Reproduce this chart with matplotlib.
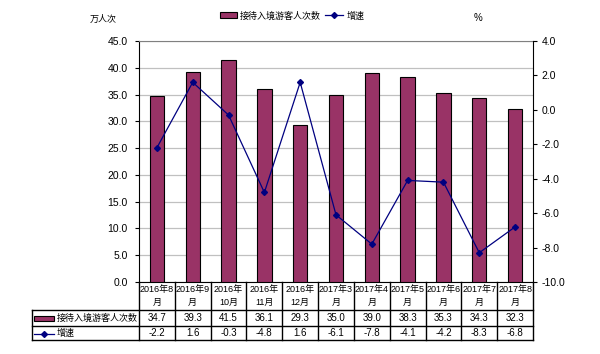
import matplotlib.pyplot as plt
import numpy as np

plt.rcParams['font.family'] = ['Liberation Sans', 'Noto Sans CJK SC']

categories = ['2016年8\n月', '2016年9\n月', '2016年\n10月', '2016年\n11月', '2016年\n12月',
              '2017年3\n月', '2017年4\n月', '2017年5\n月', '2017年6\n月', '2017年7\n月', '2017年8\n月']
visitors = [34.7, 39.3, 41.5, 36.1, 29.3, 35.0, 39.0, 38.3, 35.3, 34.3, 32.3]
growth = [-2.2, 1.6, -0.3, -4.8, 1.6, -6.1, -7.8, -4.1, -4.2, -8.3, -6.8]
bar_name = '接待入境游客人次数'
line_name = '增速'

W, H = 600, 354
fig = plt.figure(figsize=(6, 3.54), dpi=100)
L, R, T, B = 139, 533, 41, 282
ax = fig.add_axes([L / W, 1 - B / H, (R - L) / W, (B - T) / H])

x = np.arange(len(categories))
ax.bar(x, visitors, width=0.4, color='#993366', edgecolor='black', linewidth=0.8, zorder=3)
ax.set_xlim(-0.5, len(categories) - 0.5)
ax.set_ylim(0, 45)
ax.set_yticks(np.arange(0, 46, 5))
ax.set_yticklabels([f'{v:.1f}' for v in np.arange(0, 46, 5)], fontsize=7.5)
ax.yaxis.grid(True, color='#c0c0c0', linewidth=0.9)
ax.set_axisbelow(True)
ax.set_xticks([])
ax.spines['top'].set_color('#808080')
ax.spines['top'].set_zorder(5)
ax.spines['left'].set_color('black')
ax.spines['right'].set_visible(False)
ax.tick_params(axis='y', length=3, pad=5, width=0.8)

ax2 = ax.twinx()
ax2.plot(x, growth, color='#000080', linewidth=0.9, marker='D', markersize=3, zorder=4)
ax2.set_ylim(-10, 4)
ax2.set_yticks(np.arange(-10, 5, 2))
ax2.set_yticklabels([f'{v:.1f}' for v in np.arange(-10, 5, 2)], fontsize=7.5)
ax2.tick_params(axis='y', length=3, pad=3, width=0.8)
for s in ['top', 'left', 'bottom']:
    ax2.spines[s].set_visible(False)
ax2.spines['right'].set_color('black')

# table under the plot
tr = ax.get_xaxis_transform()
def ya(py):
    return (B - py) / (B - T)
y_hdr, y_r1, y_r2 = ya(310), ya(326), ya(340)
xl_tab = -0.5 - (L - 32) / ((R - L) / len(categories))
lw = 1.0
for i in range(len(categories) + 1):
    ax.plot([i - 0.5, i - 0.5], [0, y_r2], transform=tr, color='black', lw=lw, clip_on=False)
for yy in [y_hdr, y_r1, y_r2]:
    ax.plot([xl_tab, len(categories) - 0.5], [yy, yy], transform=tr, color='black', lw=lw, clip_on=False)
ax.plot([xl_tab, xl_tab], [y_hdr, y_r2], transform=tr, color='black', lw=lw, clip_on=False)

for i, c in enumerate(categories):
    ax.text(i, (0 + y_hdr) / 2, c, transform=tr, ha='center', va='center', fontsize=6.5,
            linespacing=1.45)
    ax.text(i, (y_hdr + y_r1) / 2, f'{visitors[i]:.1f}', transform=tr, ha='center', va='center', fontsize=7)
    ax.text(i, (y_r1 + y_r2) / 2, f'{growth[i]:.1f}', transform=tr, ha='center', va='center', fontsize=7)

# legend keys in the table
fig.patches.append(plt.Rectangle((34 / W, 1 - 321 / H), 20 / W, 5 / H, transform=fig.transFigure,
                                 facecolor='#993366', edgecolor='black', lw=0.8))
fig.text(57 / W, 1 - 318 / H, bar_name, ha='left', va='center', fontsize=6.5)
fig.lines.append(plt.Line2D([34 / W, 44 / W, 54 / W], [1 - 334 / H] * 3, transform=fig.transFigure,
                            color='#000080', lw=0.9, marker='D', markersize=3, markevery=[1]))
fig.text(57 / W, 1 - 333 / H, line_name, ha='left', va='center', fontsize=6.5)

# top legend
fig.patches.append(plt.Rectangle((220 / W, 1 - 18 / H), 17 / W, 6 / H, transform=fig.transFigure,
                                 facecolor='#993366', edgecolor='black', lw=0.8))
fig.text(240 / W, 1 - 16 / H, bar_name, ha='left', va='center', fontsize=6.5)
fig.lines.append(plt.Line2D([325 / W, 334 / W, 343 / W], [1 - 15 / H] * 3, transform=fig.transFigure,
                            color='#000080', lw=0.9, marker='D', markersize=3, markevery=[1]))
fig.text(347 / W, 1 - 16 / H, line_name, ha='left', va='center', fontsize=6.5)

fig.text(103 / W, 1 - 19 / H, '万人次', ha='center', va='center', fontsize=6.5)
fig.text(478 / W, 1 - 18 / H, '%', ha='center', va='center', fontsize=7)

fig.savefig('out.png', dpi=100)
